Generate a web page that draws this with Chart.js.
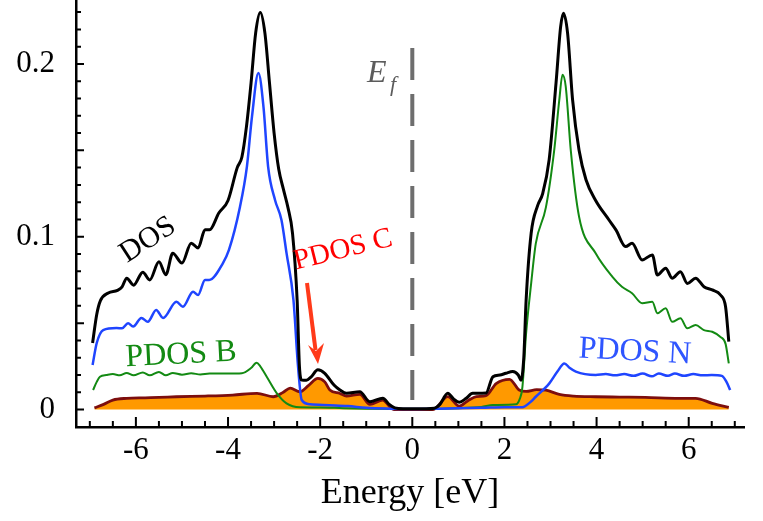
<!DOCTYPE html>
<html>
<head>
<meta charset="utf-8">
<title>DOS / PDOS</title>
<script src="https://cdn.jsdelivr.net/npm/chart.js@4.4.1/dist/chart.umd.min.js"></script>
<style>
  html, body { margin: 0; padding: 0; background: #fff; }
  #wrap { width: 763px; height: 521px; }
</style>
</head>
<body>
<div id="wrap"><canvas id="dos-chart" width="763" height="521"></canvas></div>
<script>
// values (energy in eV, density in states/eV)
const dosEnergy = [-6.94, -6.85, -6.77, -6.6, -6.4, -6.3, -6.2, -6.05, -5.85, -5.7, -5.5, -5.35, -5.2, -5.0, -4.8, -4.65, -4.5, -4.4, -4.2, -4.0, -3.8, -3.7, -3.6, -3.5, -3.4, -3.3, -3.2, -3.1, -3.0, -2.9, -2.8, -2.7, -2.6, -2.5, -2.45, -2.4, -2.3, -2.2, -2.05, -1.9, -1.7, -1.57, -1.43, -1.14, -0.92, -0.64, -0.5, -0.38, -0.2, 0, 0.3, 0.48, 0.6, 0.77, 0.9, 1.02, 1.17, 1.31, 1.6, 1.75, 1.9, 2.03, 2.18, 2.3, 2.36, 2.42, 2.47, 2.58, 2.72, 2.83, 2.97, 3.12, 3.22, 3.28, 3.37, 3.48, 3.62, 3.77, 3.98, 4.27, 4.42, 4.63, 4.77, 4.99, 5.21, 5.32, 5.5, 5.64, 5.82, 5.97, 6.15, 6.33, 6.51, 6.69, 6.8, 6.87];
const dosValues = [0.0385, 0.055, 0.063, 0.0675, 0.069, 0.071, 0.076, 0.072, 0.0795, 0.075, 0.0855, 0.078, 0.0905, 0.0848, 0.0963, 0.0935, 0.104, 0.104, 0.1137, 0.121, 0.140, 0.146, 0.1637, 0.189, 0.218, 0.2298, 0.218, 0.189, 0.160, 0.1392, 0.1277, 0.117, 0.102, 0.0634, 0.025, 0.0171, 0.017, 0.0188, 0.023, 0.021, 0.0142, 0.0113, 0.0094, 0.0103, 0.0045, 0.0066, 0.003, 0.001, 0.0005, 0.0005, 0.0005, 0.0008, 0.003, 0.0094, 0.006, 0.0042, 0.0065, 0.0094, 0.0096, 0.019, 0.020, 0.021, 0.022, 0.020, 0.017, 0.030, 0.063, 0.102, 0.118, 0.125, 0.1445, 0.189, 0.2216, 0.2294, 0.218, 0.179, 0.150, 0.133, 0.121, 0.1097, 0.104, 0.0943, 0.0962, 0.0866, 0.0895, 0.0779, 0.0818, 0.076, 0.0798, 0.073, 0.076, 0.0711, 0.0692, 0.0663, 0.0595, 0.0393];

const pdosNEnergy = [-6.94, -6.85, -6.71, -6.42, -6.3, -6.17, -6.06, -5.88, -5.74, -5.56, -5.41, -5.12, -4.98, -4.76, -4.65, -4.5, -4.41, -4.11, -3.98, -3.74, -3.59, -3.48, -3.34, -3.23, -3.13, -2.98, -2.84, -2.73, -2.58, -2.48, -2.4, -2.22, -1.8, -1.4, -1.0, -0.5, 0, 0.5, 1.0, 1.5, 2.0, 2.39, 2.55, 2.68, 2.97, 3.15, 3.3, 3.42, 3.55, 3.98, 4.2, 4.4, 4.6, 4.8, 5.0, 5.2, 5.35, 5.55, 5.7, 5.9, 6.1, 6.3, 6.5, 6.72, 6.82, 6.9];
const pdosNValues = [0.0258, 0.0385, 0.046, 0.0472, 0.047, 0.050, 0.048, 0.053, 0.0508, 0.0576, 0.053, 0.0624, 0.0595, 0.0682, 0.0663, 0.075, 0.075, 0.0848, 0.0924, 0.1174, 0.1406, 0.1695, 0.1947, 0.175, 0.1406, 0.1213, 0.1097, 0.0905, 0.0634, 0.0248, 0.0055, 0.003, 0.0025, 0.002, 0.001, 0.0005, 0.0003, 0.0005, 0.0008, 0.001, 0.0013, 0.0013, 0.004, 0.0074, 0.015, 0.022, 0.0267, 0.024, 0.0219, 0.020, 0.0205, 0.0198, 0.0205, 0.0195, 0.0208, 0.0192, 0.0208, 0.0195, 0.0208, 0.0195, 0.0205, 0.0198, 0.020, 0.0195, 0.016, 0.0113];

const pdosBEnergy = [-6.93, -6.85, -6.78, -6.64, -6.5, -6.35, -6.2, -6.05, -5.85, -5.7, -5.5, -5.35, -5.2, -5.0, -4.8, -4.6, -4.4, -4.0, -3.7, -3.5, -3.38, -3.3, -3.16, -2.94, -2.73, -2.44, -2.0, -1.5, -1.0, 0, 1.0, 1.5, 1.75, 2.25, 2.33, 2.39, 2.47, 2.58, 2.68, 2.9, 3.08, 3.19, 3.26, 3.33, 3.44, 3.62, 3.98, 4.34, 4.55, 4.77, 4.99, 5.21, 5.32, 5.5, 5.64, 5.82, 5.97, 6.15, 6.33, 6.51, 6.69, 6.8, 6.87];
const pdosBValues = [0.0113, 0.016, 0.019, 0.020, 0.0205, 0.0198, 0.0212, 0.0198, 0.0215, 0.0198, 0.0218, 0.0198, 0.0212, 0.0202, 0.021, 0.0203, 0.0208, 0.0208, 0.021, 0.024, 0.0271, 0.025, 0.019, 0.0094, 0.0036, 0.0013, 0.0012, 0.0008, 0.0005, 0.0003, 0.0008, 0.0015, 0.0026, 0.003, 0.006, 0.013, 0.044, 0.073, 0.096, 0.117, 0.150, 0.179, 0.1937, 0.187, 0.150, 0.1116, 0.0904, 0.0769, 0.071, 0.0673, 0.0615, 0.0624, 0.0557, 0.0586, 0.0508, 0.0528, 0.047, 0.0489, 0.046, 0.045, 0.042, 0.038, 0.0267];

const pdosCEnergy = [-6.9, -6.7, -6.5, -6.2, -5.8, -5.5, -5.12, -4.5, -3.9, -3.37, -3.02, -2.8, -2.65, -2.44, -2.25, -2.05, -1.9, -1.79, -1.57, -1.43, -1.14, -0.92, -0.64, -0.5, -0.4, 0, 0.45, 0.77, 1.02, 1.2, 1.39, 1.6, 1.82, 2.11, 2.32, 2.47, 2.7, 2.9, 3.19, 3.5, 3.98, 4.5, 5.06, 5.79, 6.15, 6.51, 6.87];
const pdosCValues = [0.001, 0.003, 0.0055, 0.0065, 0.0068, 0.007, 0.0074, 0.0078, 0.0084, 0.0094, 0.0074, 0.010, 0.0124, 0.0103, 0.014, 0.018, 0.016, 0.0113, 0.0093, 0.0078, 0.0088, 0.003, 0.0055, 0.002, 0, 0, 0, 0.0075, 0.002, 0.005, 0.0075, 0.008, 0.015, 0.0175, 0.0113, 0.0105, 0.0115, 0.0112, 0.0088, 0.0078, 0.0074, 0.0072, 0.007, 0.0065, 0.0065, 0.0036, 0.0013];

const xTickValues = [-6, -4, -2, 0, 2, 4, 6];
const yTickValues = [0, 0.1, 0.2];

const serif = "'Liberation Serif', 'DejaVu Serif', serif";

function toPoints(xs, ys) {
    return xs.map((x, i) => ({ x: x, y: ys[i] }));
}

// pin the plot box: no extra room for edge tick labels
function fixBox(s, size) {
    if (s.isHorizontal()) s.height = size; else s.width = size;
    s.paddingTop = 0;
    s.paddingBottom = 0;
    s.paddingLeft = 0;
    s.paddingRight = 0;
}

// inward tick marks, Fermi level line and the curve labels
const decorations = {
    id: 'decorations',
    beforeDatasetsDraw(chart) {
        const ctx = chart.ctx;
        const x0 = chart.scales.x.getPixelForValue(0);
        ctx.save();
        ctx.strokeStyle = '#6e6e6e';
        ctx.lineWidth = 4;
        ctx.setLineDash([32, 14]);
        ctx.beginPath();
        ctx.moveTo(x0, 48);
        ctx.lineTo(x0, 400);
        ctx.stroke();
        ctx.restore();
    },
    afterDraw(chart) {
        const ctx = chart.ctx;
        const xs = chart.scales.x;
        const ys = chart.scales.y;
        const area = chart.chartArea;
        ctx.save();
        ctx.strokeStyle = '#000';
        ctx.lineWidth = 2;
        ctx.beginPath();
        for (let k = 0; k <= 23; k++) {
            const y = ys.getPixelForValue(k / 100);
            const len = k % 5 === 0 ? 8 : 5;
            ctx.moveTo(area.left, y);
            ctx.lineTo(area.left + len, y);
        }
        for (let k = -14; k <= 14; k++) {
            const x = xs.getPixelForValue(k / 2);
            const len = k % 4 === 0 ? 10 : 6;
            ctx.moveTo(x, area.bottom);
            ctx.lineTo(x, area.bottom - len);
        }
        ctx.stroke();

        const label = (text, x, y, angle, color, size) => {
            ctx.save();
            ctx.translate(x, y);
            ctx.rotate(angle * Math.PI / 180);
            ctx.fillStyle = color;
            ctx.font = size + 'px ' + serif;
            ctx.textAlign = 'center';
            ctx.textBaseline = 'middle';
            ctx.fillText(text, 0, 0);
            ctx.restore();
        };
        label('DOS', 148, 240, -33, '#000', 30);
        label('PDOS C', 343, 250, -14, '#ff0000', 29);
        label('PDOS B', 181, 355, -3, '#138a13', 32);
        label('PDOS N', 635, 352, 3, '#2f55ff', 32);

        // E_f
        ctx.fillStyle = '#5c5c5c';
        ctx.textAlign = 'left';
        ctx.textBaseline = 'alphabetic';
        ctx.font = 'italic 32px ' + serif;
        ctx.fillText('E', 367, 82);
        ctx.font = 'italic 22px ' + serif;
        ctx.fillText('f', 390, 91);

        // arrow pointing at the C peak
        ctx.strokeStyle = '#ff3a1a';
        ctx.fillStyle = '#ff3a1a';
        ctx.lineWidth = 4;
        ctx.setLineDash([]);
        ctx.beginPath();
        ctx.moveTo(307, 283);
        ctx.lineTo(315.5, 350);
        ctx.stroke();
        ctx.beginPath();
        ctx.moveTo(318, 364);
        ctx.lineTo(308, 345);
        ctx.lineTo(316, 351);
        ctx.lineTo(324, 343);
        ctx.closePath();
        ctx.fill();
        ctx.restore();
    }
};

const lineStyle = {
    pointRadius: 0,
    fill: false,
    cubicInterpolationMode: 'monotone'
};

new Chart(document.getElementById('dos-chart'), {
    type: 'line',
    data: {
        datasets: [
            { ...lineStyle, label: 'DOS', data: toPoints(dosEnergy, dosValues), borderColor: '#000', borderWidth: 3, order: 1 },
            { ...lineStyle, label: 'PDOS N', data: toPoints(pdosNEnergy, pdosNValues), borderColor: '#1f45ff', borderWidth: 2.5, order: 2 },
            { ...lineStyle, label: 'PDOS B', data: toPoints(pdosBEnergy, pdosBValues), borderColor: '#138a13', borderWidth: 2, order: 3 },
            { ...lineStyle, label: 'PDOS C', data: toPoints(pdosCEnergy, pdosCValues), borderColor: '#7d0e0e', borderWidth: 2.8,
              fill: 'origin', backgroundColor: '#ff9900', order: 4 }
        ]
    },
    options: {
        responsive: false,
        animation: false,
        devicePixelRatio: 1,
        layout: { autoPadding: false, padding: { top: 0, right: 19, bottom: 0, left: 0 } },
        plugins: { legend: { display: false }, tooltip: { enabled: false } },
        scales: {
            x: {
                type: 'linear',
                min: -7.3,
                max: 7.2,
                afterFit: (s) => fixBox(s, 94),
                afterBuildTicks: (s) => { s.ticks = xTickValues.map(v => ({ value: v })); },
                grid: { display: false, drawTicks: false },
                border: { display: true, color: '#000', width: 2.5 },
                ticks: {
                    padding: 5,
                    color: '#000',
                    font: { family: serif, size: 31 },
                    callback: (v) => String(v)
                },
                title: {
                    display: true,
                    text: 'Energy [eV]',
                    color: '#000',
                    font: { family: serif, size: 36 },
                    padding: { top: 0, bottom: 6 }
                }
            },
            y: {
                type: 'linear',
                min: -0.0101,
                max: 0.237,
                afterFit: (s) => fixBox(s, 76),
                afterBuildTicks: (s) => { s.ticks = yTickValues.map(v => ({ value: v })); },
                grid: { display: false, drawTicks: false },
                border: { display: true, color: '#000', width: 2.5 },
                ticks: {
                    padding: 21,
                    color: '#000',
                    font: { family: serif, size: 31 },
                    callback: (v) => v === 0 ? '0' : v.toFixed(1)
                }
            }
        }
    },
    plugins: [decorations]
});
</script>
</body>
</html>
